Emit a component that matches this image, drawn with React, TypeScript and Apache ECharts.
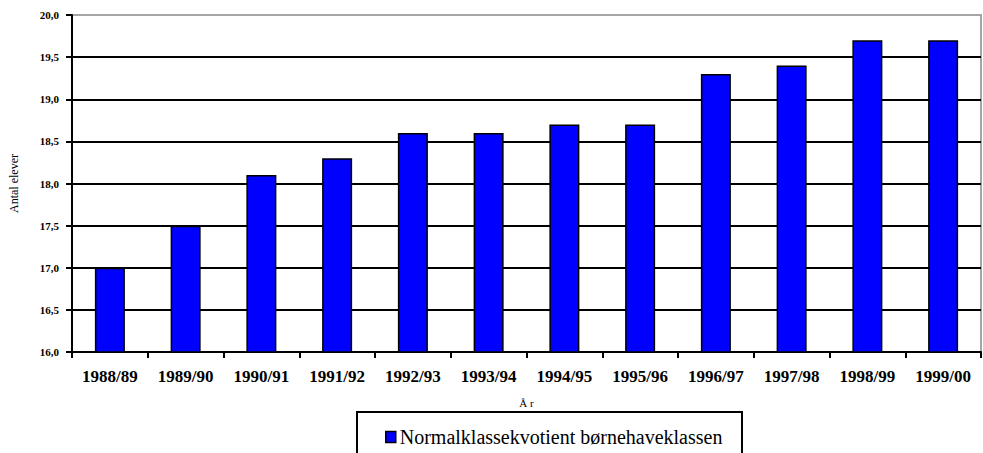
import React, { useEffect, useRef } from "react";
import * as echarts from "echarts";

const categories = ["1988/89", "1989/90", "1990/91", "1991/92", "1992/93", "1993/94", "1994/95", "1995/96", "1996/97", "1997/98", "1998/99", "1999/00"];
const values = [17.0, 17.5, 18.1, 18.3, 18.6, 18.6, 18.7, 18.7, 19.3, 19.4, 19.7, 19.7];
const seriesName = "Normalklassekvotient børnehaveklassen";
const yMin = 16;
const yMax = 20;
const yInterval = 0.5;

const SERIF = "Liberation Serif";

export default function App() {
  const ref = useRef<HTMLDivElement>(null);
  useEffect(() => {
    if (!ref.current) return;
    const chart = echarts.init(ref.current, null, { renderer: "svg" });
    chart.setOption({
      animation: false,
      backgroundColor: "#ffffff",
      textStyle: { fontFamily: SERIF },
      grid: {
        left: 69,
        right: 2,
        top: 15,
        bottom: 101,
        show: true,
        borderColor: "#a6a6a6",
        borderWidth: 2,
        backgroundColor: "transparent",
      },
      legend: {
        show: true,
        left: 385,
        top: 427,
        padding: 0,
        itemWidth: 10,
        itemHeight: 11,
        itemGap: 4,
        icon: "rect",
        textStyle: { fontFamily: SERIF, fontSize: 20, color: "#000", padding: [0, 0, 0, -1] },
        itemStyle: { borderColor: "#000", borderWidth: 1.5 },
        data: [seriesName],
      },
      graphic: [
        {
          type: "rect",
          shape: { x: 357, y: 412, width: 385, height: 60 },
          style: { fill: "none", stroke: "#000", lineWidth: 2 },
          z: 1,
        },
      ],
      xAxis: {
        type: "category",
        data: categories,
        name: "Å r",
        nameLocation: "middle",
        nameGap: 45,
        nameTextStyle: { fontFamily: SERIF, fontSize: 11, color: "#000", fontWeight: "normal" },
        axisLine: { lineStyle: { color: "#000", width: 2 } },
        axisTick: { show: true, alignWithLabel: false, length: 6, lineStyle: { color: "#000", width: 2 } },
        axisLabel: { fontFamily: SERIF, fontSize: 17, fontWeight: "bold", color: "#000", margin: 16, interval: 0 },
      },
      yAxis: {
        type: "value",
        min: yMin,
        max: yMax,
        interval: yInterval,
        name: "Antal elever",
        nameLocation: "middle",
        nameGap: 52,
        nameRotate: 90,
        nameTextStyle: { fontFamily: SERIF, fontSize: 12, color: "#000" },
        axisLine: { show: true, lineStyle: { color: "#000", width: 2 } },
        axisTick: { show: true, length: 6, lineStyle: { color: "#000", width: 2 } },
        axisLabel: {
          fontFamily: SERIF,
          fontSize: 11,
          fontWeight: "bold",
          color: "#000",
          margin: 13,
          formatter: (v: number) => v.toFixed(1).replace(".", ","),
        },
        splitLine: {
          show: true,
          lineStyle: {
            color: ["#000", "#000", "#000", "#000", "#000", "#000", "#000", "#000", "#a6a6a6"],
            width: 2,
          },
        },
      },
      series: [
        {
          name: seriesName,
          type: "bar",
          data: values,
          barWidth: 30,
          itemStyle: { color: "#0000ff", borderColor: "#000", borderWidth: 1.5 },
          z: 3,
        },
      ],
    });
    return () => chart.dispose();
  }, []);
  return <div ref={ref} style={{ position: "fixed", left: 0, top: 0, width: 983, height: 453 }} />;
}
